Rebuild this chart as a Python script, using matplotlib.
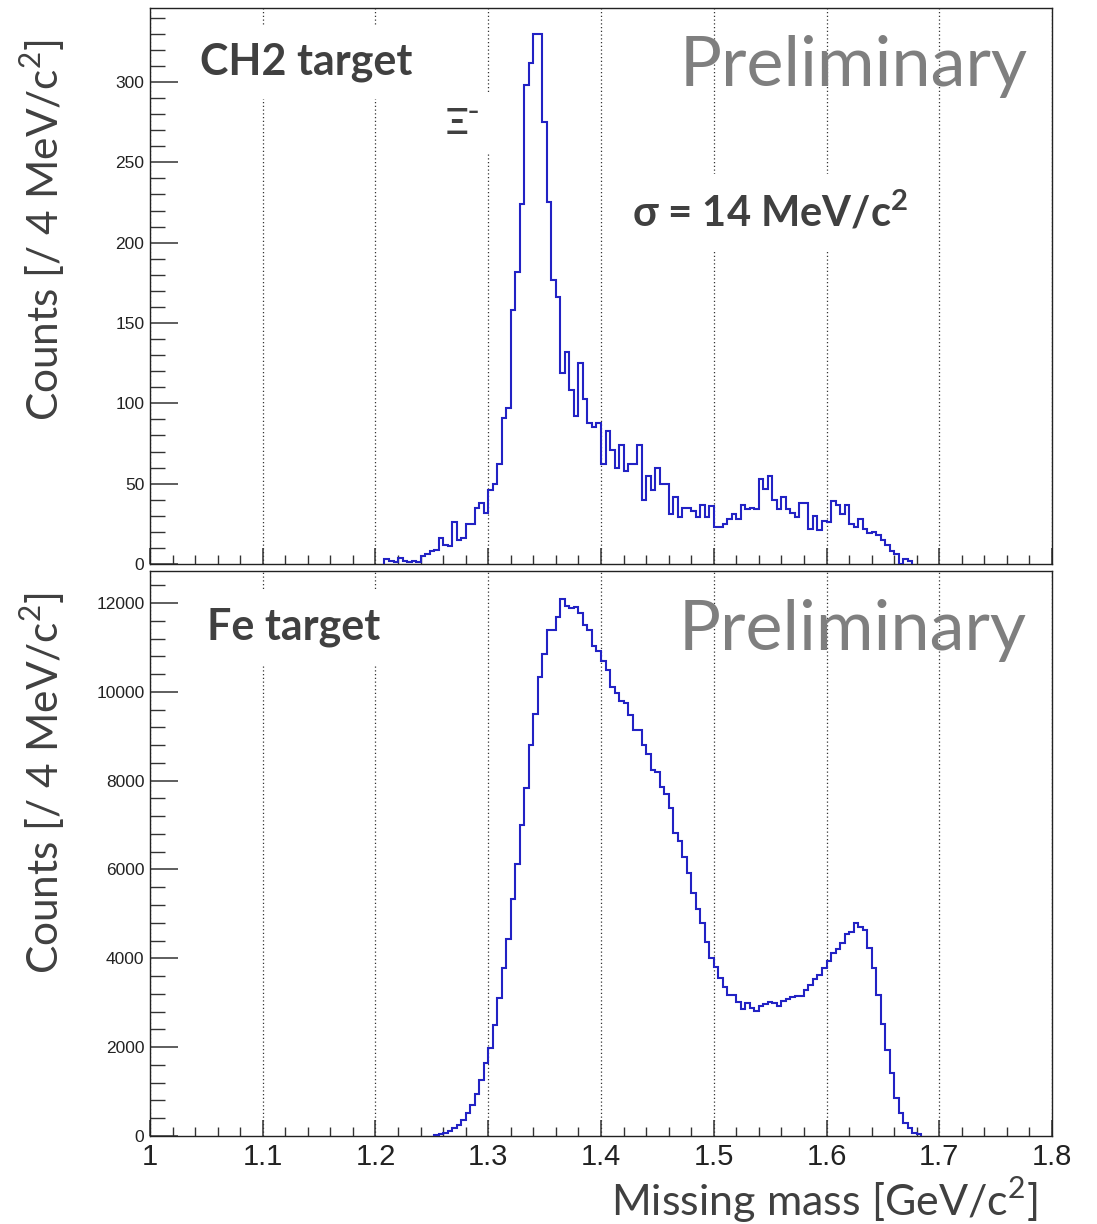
import numpy as np
import matplotlib
matplotlib.use("Agg")
import matplotlib.pyplot as plt
from matplotlib.ticker import MultipleLocator, FuncFormatter

plt.rcParams["mathtext.fontset"] = "custom"
plt.rcParams["mathtext.rm"] = "Lato"
plt.rcParams["mathtext.bf"] = "Lato:bold"

# 4 MeV/c^2 bins, values read bin by bin off the picture
bin_width = 0.004

# CH2 target, first bin starts at 1.208 GeV/c^2
ch2_start = 1.208
ch2_counts = [
    3, 2, 1, 4, 2, 1, 2, 1, 5, 6, 8, 9, 16, 12, 11, 26, 15, 16, 25, 25, 35, 38, 32,
    46, 50, 62, 91, 97, 158, 182, 224, 298, 312, 330, 330, 275, 225, 177, 166, 119,
    132, 108, 92, 125, 103, 88, 85, 88,
    62, 83, 71, 60, 74, 58, 62, 62, 74, 40, 55, 46, 60, 50, 50, 31, 42, 29, 35, 35,
    33, 29, 37, 29, 36,
    23, 23, 25, 28, 31, 28, 37, 34, 35, 34, 53, 47, 55, 40, 34, 42, 34, 32, 29, 38,
    38, 22, 30, 21, 27,
    26, 39, 37, 31, 37, 25, 23, 28, 22, 19, 20, 18, 15, 12, 8, 6, 0, 3, 2,
]

# Fe target, first bin starts at 1.252 GeV/c^2
fe_start = 1.252
fe_counts = [
    30, 40, 75, 120, 173, 248, 360, 510, 698, 946, 1261, 1636,
    1974, 2509, 3113, 3781, 4425, 5342, 6131, 6994, 7839, 8813, 9498, 10343, 10842,
    11400, 11400, 11682, 12100, 11939, 11883, 11899, 11778, 11504, 11400, 11022, 10917,
    10700, 10491, 10113, 9976, 9791, 9750, 9468, 9146, 9146, 8800, 8600, 8240, 8200,
    7850, 7710, 7380, 6830, 6650, 6274, 5914, 5463, 5103, 4788, 4375, 4000,
    3800, 3550, 3362, 3174, 3174, 3024, 2852, 3002, 2874, 2814, 2927, 2964, 3024,
    2987, 2927, 3047, 3084, 3122, 3152, 3152, 3287, 3399, 3527, 3624, 3790,
    3947, 4127, 4202, 4352, 4540, 4600, 4788, 4713, 4638, 4225, 3775, 3174, 2521,
    1936, 1411, 848, 510, 300, 173, 75, 38,
]

x_range = (1.0, 1.8)
ch2_ylim = (0, 346)
fe_ylim = (0, 12720)

HIST_COLOR = "#2222c4"
TEXT_DARK = "#404040"
TEXT_GREY = "#7f7f7f"
PPT_FONT = ["Lato", "DejaVu Sans"]
ROOT_FONT = ["Liberation Sans", "DejaVu Sans"]


def edges_for(start, counts):
    return start + bin_width * np.arange(len(counts) + 1)


def style_axes(ax, ylim, ymajor, yminor, show_xlabels):
    ax.set_xlim(*x_range)
    ax.set_ylim(*ylim)
    ax.xaxis.set_major_locator(MultipleLocator(0.1))
    ax.xaxis.set_minor_locator(MultipleLocator(0.02))
    ax.yaxis.set_major_locator(MultipleLocator(ymajor))
    ax.yaxis.set_minor_locator(MultipleLocator(yminor))
    ax.tick_params(axis="x", which="major", direction="in", length=11.5, width=1.1,
                   color="#333333", pad=5)
    ax.tick_params(axis="x", which="minor", direction="in", length=6.5, width=1.0,
                   color="#333333")
    ax.tick_params(axis="y", which="major", direction="in", length=20, width=1.1,
                   color="#333333", pad=4)
    ax.tick_params(axis="y", which="minor", direction="in", length=11, width=1.0,
                   color="#333333")
    for lab in ax.get_yticklabels():
        lab.set_family(ROOT_FONT)
        lab.set_fontsize(12.5)
        lab.set_color("#222222")
    if show_xlabels:
        ax.xaxis.set_major_formatter(FuncFormatter(lambda v, p: "%g" % round(v, 2)))
        for lab in ax.get_xticklabels():
            lab.set_family(ROOT_FONT)
            lab.set_fontsize(21)
            lab.set_color("#222222")
    else:
        ax.tick_params(axis="x", labelbottom=False)
    ax.grid(axis="x", which="major", color="#333333", linestyle=(0, (1, 2)), linewidth=0.9)
    ax.grid(axis="y", visible=False)
    for sp in ax.spines.values():
        sp.set_linewidth(1.0)
        sp.set_color("#222222")


fig = plt.figure(figsize=(10.97, 12.24), dpi=100)
ax_top = fig.add_axes([0.1367, 0.5392, 0.8223, 0.4542])
ax_bot = fig.add_axes([0.1367, 0.0719, 0.8223, 0.4616])

ax_top.stairs(ch2_counts, edges_for(ch2_start, ch2_counts), color=HIST_COLOR,
              linewidth=1.5, zorder=4)
ax_bot.stairs(fe_counts, edges_for(fe_start, fe_counts), color=HIST_COLOR,
              linewidth=1.5, zorder=4)

style_axes(ax_top, ch2_ylim, 50, 10, False)
style_axes(ax_bot, fe_ylim, 2000, 400, True)

# white boxes behind the labels hide the grid lines, as in the slide
white_box = dict(boxstyle="square,pad=0.4", facecolor="white", edgecolor="none")

ax_top.text(0.055, 0.903, "CH2 target", transform=ax_top.transAxes, ha="left", va="center",
            fontsize=31, fontweight="bold", color=TEXT_DARK, family=PPT_FONT,
            bbox=white_box, zorder=3)
ax_top.text(0.328, 0.793, "\u039e\u207b", transform=ax_top.transAxes, ha="left", va="center",
            fontsize=26, fontweight="bold", color=TEXT_DARK, family=PPT_FONT,
            bbox=white_box, zorder=3)
ax_top.text(0.534, 0.633, r"$\mathbf{\sigma}$ = 14 MeV/c$\mathbf{^2}$", transform=ax_top.transAxes,
            ha="left", va="center", fontsize=30, fontweight="bold", color=TEXT_DARK,
            family=PPT_FONT, bbox=white_box, zorder=3)
ax_top.text(0.973, 0.895, "Preliminary", transform=ax_top.transAxes, ha="right",
            va="center", fontsize=50.5, color=TEXT_GREY, family=PPT_FONT, zorder=3)

ax_bot.text(0.063, 0.901, "Fe target", transform=ax_bot.transAxes, ha="left", va="center",
            fontsize=31, fontweight="bold", color=TEXT_DARK, family=PPT_FONT,
            bbox=white_box, zorder=3)
ax_bot.text(0.972, 0.894, "Preliminary", transform=ax_bot.transAxes, ha="right",
            va="center", fontsize=50.5, color=TEXT_GREY, family=PPT_FONT, zorder=3)

ylabel = r"Counts [/ 4 MeV/c$^2$]"
fig.text(0.039, 0.812, ylabel, rotation=90, ha="center", va="center", fontsize=30.5,
         color=TEXT_DARK, family=PPT_FONT)
fig.text(0.039, 0.360, ylabel, rotation=90, ha="center", va="center", fontsize=30.5,
         color=TEXT_DARK, family=PPT_FONT)
fig.text(0.946, 0.0196, r"Missing mass [GeV/c$^2$]", ha="right", va="center", fontsize=31,
         color=TEXT_DARK, family=PPT_FONT)

fig.savefig("out.png", dpi=100)
